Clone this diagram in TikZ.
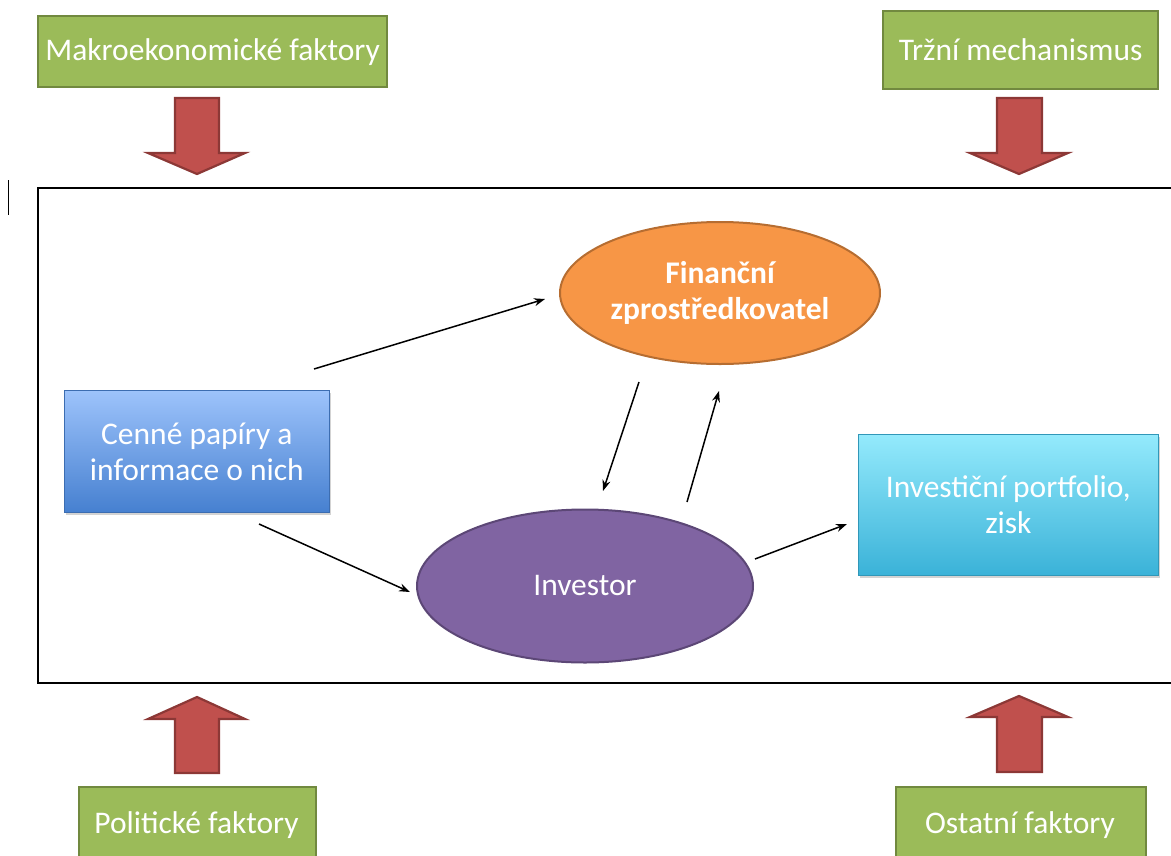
\documentclass[tikz,border=0pt]{standalone}
\usepackage{fontspec}
\setmainfont{Carlito}
\usetikzlibrary{arrows.meta,shapes.geometric,shadows}
\definecolor{factgreen}{HTML}{9BBB59}
\definecolor{factgreenline}{HTML}{71893F}
\definecolor{blockred}{HTML}{C0504D}
\definecolor{blockredline}{HTML}{8C3836}
\definecolor{finorange}{HTML}{F79646}
\definecolor{finorangeline}{HTML}{B66D31}
\definecolor{invpurple}{HTML}{8064A2}
\definecolor{invpurpleline}{HTML}{5C4776}
\definecolor{bluetop}{HTML}{9DC3FB}
\definecolor{bluebottom}{HTML}{4680D0}
\definecolor{cyantop}{HTML}{94EAFC}
\definecolor{cyanbottom}{HTML}{3AB2D8}
\newcommand{\labelfont}{\fontsize{31.5}{36}\selectfont}
\tikzset{
  factor/.style={draw=factgreenline, line width=2.2pt, fill=factgreen,
    text=white, font=\labelfont, inner sep=0pt, anchor=north west},
  factortext/.style={text=white, font=\labelfont, inner sep=0pt},
  blockarrow/.style={draw=blockredline, line width=2.2pt, fill=blockred, line join=miter},
  gradbox/.style={draw=#1bottom!85!black, line width=0.8pt, top color=#1top, bottom color=#1bottom,
    text=white, font=\labelfont, align=center, inner sep=0pt, anchor=north west,
    drop shadow={shadow xshift=2pt, shadow yshift=-3pt, opacity=0.35}},
  oval/.style={ellipse, line width=2pt, text=white, align=center, inner sep=0pt},
  flow/.style={line width=1.5pt, -{Stealth[length=11pt,width=8pt]}}
}
\begin{document}
\begin{tikzpicture}[x=1pt,y=-1pt]
\useasboundingbox (0,0) rectangle (1171,855);
\clip (0,0) rectangle (1171,855);

% outer frame of the investment environment
\draw[line width=1.2pt] (38,188) rectangle (1190,683);
% thin vertical stroke at the left margin
\draw[line width=1pt] (8,180) -- (8,215);

% external factors
\node[factor, minimum width=349pt, minimum height=71pt] (makro) at (37,15) {Makroekonomické faktory};
\node[factor, minimum width=275pt, minimum height=78pt] (trh) at (882,10) {Tržní mechanismus};
\node[factor, minimum width=237pt, minimum height=90pt] (polit) at (78,786) {};
\node[factortext] (politt) at (196.5,825) {Politické faktory};
\node[factor, minimum width=250pt, minimum height=90pt] (ostat) at (895,786) {};
\node[factortext] (ostatt) at (1020,825) {Ostatní faktory};

% block arrows pointing into the frame
\draw[blockarrow] (175,98) -- (219,98) -- (219,153) -- (245,153) -- (197,174) -- (148,153) -- (175,153) -- cycle;
\draw[blockarrow] (997,98) -- (1042,98) -- (1042,153) -- (1068,153) -- (1019,174) -- (970,153) -- (997,153) -- cycle;
\draw[blockarrow] (175,773) -- (219,773) -- (219,719) -- (245,719) -- (197,697) -- (148,719) -- (175,719) -- cycle;
\draw[blockarrow] (997,772) -- (1042,772) -- (1042,717) -- (1068,717) -- (1019,696) -- (970,717) -- (997,717) -- cycle;

% participants
\node[gradbox=blue, minimum width=265pt, minimum height=122pt] (cp) at (64,390)
  {Cenné papíry a\\informace o nich};
\node[gradbox=cyan, minimum width=300pt, minimum height=141pt] (port) at (858,434)
  {Investiční portfolio,\\zisk};
\node[oval, draw=finorangeline, fill=finorange, minimum width=320pt, minimum height=142pt,
  font=\labelfont\bfseries] (fin) at (720,293) {Finanční\\zprostředkovatel};
\node[oval, draw=invpurpleline, fill=invpurple, minimum width=336pt, minimum height=153pt,
  font=\labelfont] (inv) at (585,586) {Investor};

% flow endpoints
\coordinate (cpA) at (314,369);
\coordinate (finA) at (545,299);
\coordinate (cpB) at (259,524);
\coordinate (invA) at (410,592);
\coordinate (finB) at (639,382);
\coordinate (invB) at (603,491);
\coordinate (invC) at (687,502);
\coordinate (finC) at (719,391);
\coordinate (invD) at (755,559);
\coordinate (portA) at (847,524);

\draw[flow] (cpA) -- (finA);
\draw[flow] (cpB) -- (invA);
\draw[flow] (finB) -- (invB);
\draw[flow] (invC) -- (finC);
\draw[flow] (invD) -- (portA);
\end{tikzpicture}
\end{document}
